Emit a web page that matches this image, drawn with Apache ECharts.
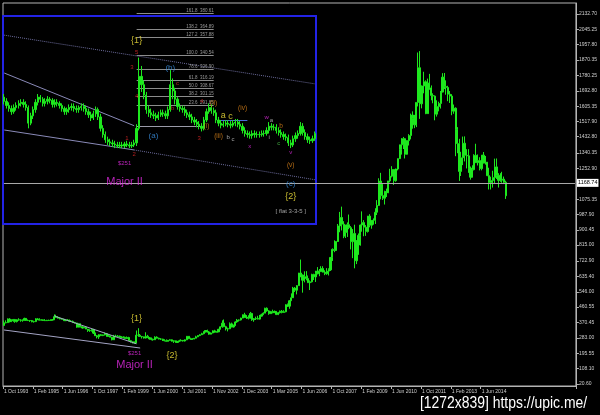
<!DOCTYPE html>
<html><head><meta charset="utf-8">
<script src="https://cdn.jsdelivr.net/npm/echarts@6/dist/echarts.min.js"></script>
<style>html,body{margin:0;padding:0;background:#000;}#c{width:600px;height:415px;}</style>
</head><body><div id="c"></div>
<script>
// ---------- main chart data (monthly bars) ----------
const xTickLabels = ['1 Oct 1993','1 Feb 1995','1 Jun 1996','1 Oct 1997','1 Feb 1999','1 Jun 2000','1 Jul 2001','1 Nov 2002','1 Dec 2003','1 Mar 2005','1 Jun 2006','1 Oct 2007','1 Feb 2009','1 Jun 2010','1 Oct 2011','1 Feb 2013','1 Jun 2014'];
const totalSlots = 307;
const yTickValues = [20.60,108.10,195.55,283.00,370.45,460.55,546.00,635.40,722.90,815.00,900.45,987.90,1075.35,1252.90,1340.35,1432.80,1517.90,1605.35,1692.80,1780.25,1870.35,1957.80,2045.25,2132.70];
const currentPrice = 1168.74;

const opens = [
 355,370,371,
 391,377,381,389,377,387,386,384,385,395,383,383,
 383,376,377,392,389,385,387,383,382,384,383,387,
 387,405,400,396,392,390,382,385,386,379,378,371,
 369,345,364,349,340,345,334,326,325,332,311,296,
 290,302,297,301,308,293,296,288,273,294,292,294,
 288,287,287,280,286,268,262,255,254,299,299,292,
 290,283,293,285,278,276,273,288,282,277,277,273,268,264,270,
 273,265,267,258,264,267,270,266,273,293,279,275,
 277,282,290,297,302,308,318,326,318,305,312,324,316,318,333,
 347,368,348,335,336,364,346,354,375,385,386,397,
 416,402,400,396,423,387,393,395,391,408,416,425,453,
 438,422,434,428,435,417,428,436,429,433,473,465,496,
 513,568,556,582,654,643,613,633,623,599,604,646,
 632,650,665,662,680,659,650,665,672,743,789,783,
 834,923,971,933,865,885,930,913,833,880,724,814,
 869,928,942,916,891,979,927,954,955,1001,1040,1179,
 1096,1081,1119,1113,1180,1207,1245,1181,1248,1307,1359,1386,
 1421,1332,1410,1439,1556,1536,1500,1628,1826,1620,1722,1746,
 1564,1738,1711,1668,1664,1561,1604,1622,1687,1772,1719,1713,
 1675,1664,1578,1595,1472,1393,1234,1312,1395,1326,1323,1253,
 1201,1244,1326,1284,1296,1250,1327,1282,1287,1210,1171,1182,
 1199,1260,1212,1183,1184,1190,1172];
const closes = [
 370,371,391,
 377,381,389,377,387,386,384,385,395,383,383,383,
 376,377,392,389,385,387,383,382,384,383,387,387,
 405,400,396,392,390,382,385,386,379,378,371,369,
 345,364,349,340,345,334,326,325,332,311,296,290,
 302,297,301,308,293,296,288,273,294,292,294,288,
 287,287,280,286,268,262,255,254,299,299,292,290,
 283,293,285,278,276,273,288,282,277,277,273,268,264,270,273,
 265,267,258,264,267,270,266,273,293,279,275,277,
 282,290,297,302,308,318,326,318,305,312,324,316,318,333,347,
 368,348,335,336,364,346,354,375,385,386,397,416,
 402,400,396,423,387,393,395,391,408,416,425,453,438,
 422,434,428,435,417,428,436,429,433,473,465,496,513,
 568,556,582,654,643,613,633,623,599,604,646,632,
 650,665,662,680,659,650,665,672,743,789,783,834,
 923,971,933,865,885,930,913,833,880,724,814,869,
 928,942,916,891,979,927,954,955,1001,1040,1179,1096,
 1081,1119,1113,1180,1207,1245,1181,1248,1307,1359,1386,1421,
 1332,1410,1439,1556,1536,1500,1628,1826,1620,1722,1746,1564,
 1738,1711,1668,1664,1561,1604,1622,1687,1772,1719,1713,1675,
 1664,1578,1595,1472,1393,1234,1312,1395,1326,1323,1253,1201,
 1244,1326,1284,1296,1250,1327,1282,1287,1210,1171,1182,1199,
 1260,1212,1183,1184,1190,1172,1095];
const highs = [
 383,384,395,
 396,390,392,392,390,396,390,389,399,397,389,385,
 386,382,396,396,396,390,389,391,387,388,389,390,
 418,416,408,400,396,393,390,391,388,385,383,375,
 370,366,366,350,348,346,334,333,335,335,314,300,
 305,306,303,315,312,301,297,290,301,302,300,297,
 293,293,291,292,290,272,265,264,326,339,306,294,
 291,316,301,288,286,280,293,293,285,282,279,276,275,272,276,
 275,270,269,264,273,276,271,275,294,294,285,282,
 283,296,299,305,313,322,328,331,323,315,327,330,322,335,350,
 384,389,353,342,372,371,360,379,392,389,399,417,
 427,414,413,432,427,397,405,410,415,422,430,456,458,
 442,438,445,440,437,432,440,443,442,476,480,498,538,
 575,574,585,655,731,645,664,665,640,612,650,650,
 667,688,677,693,693,670,682,681,745,795,841,835,
 934,1003,1033,950,930,943,988,922,905,930,842,880,
 931,1006,956,928,980,990,957,966,1024,1070,1195,1226,
 1162,1124,1136,1180,1249,1264,1246,1250,1308,1388,1424,1431,
 1424,1411,1447,1564,1577,1557,1628,1913,1921,1725,1803,1754,
 1764,1791,1725,1680,1668,1640,1632,1693,1795,1796,1754,1723,
 1693,1675,1616,1600,1487,1420,1346,1433,1434,1361,1361,1262,
 1269,1332,1392,1331,1315,1328,1345,1322,1287,1255,1204,1238,
 1307,1308,1224,1224,1232,1205,1181];
const lows = [
 360,367,370,
 372,374,376,370,372,382,376,376,383,383,380,375,
 373,371,374,385,383,383,381,381,381,381,382,383,
 387,398,395,390,389,382,380,385,378,376,370,367,
 342,344,343,336,339,334,318,318,320,306,295,281,
 278,294,294,298,290,290,287,270,273,287,290,285,
 282,280,278,278,267,257,252,251,253,290,289,280,
 280,280,283,274,270,268,272,280,275,272,266,264,262,263,268,
 263,255,256,255,260,264,263,263,271,277,273,273,
 276,281,288,294,300,304,315,314,302,304,310,313,315,318,332,
 342,345,326,321,334,344,343,352,370,377,383,396,
 398,392,389,394,381,376,386,389,388,406,416,425,433,
 416,421,424,426,414,414,423,424,428,430,460,450,495,
 516,546,532,582,630,542,601,612,598,557,600,614,
 603,647,636,661,658,642,644,640,666,723,773,780,
 832,887,897,853,854,860,904,789,739,681,705,758,
 810,890,864,866,885,915,907,930,934,985,1045,1075,
 1071,1045,1088,1110,1171,1200,1157,1175,1240,1309,1330,1362,
 1308,1330,1382,1417,1478,1481,1487,1605,1534,1594,1680,1561,
 1563,1700,1640,1623,1526,1547,1577,1593,1689,1704,1672,1635,
 1625,1555,1563,1321,1338,1180,1208,1270,1291,1251,1226,1187,
 1202,1240,1282,1268,1240,1240,1281,1273,1207,1131,1131,1142,
 1167,1191,1142,1175,1169,1162,1077];

// main chart annotations: [text, bar index, price]
const mainLabels = [
 ['{1}', 71, 397],
 ['$251', 70, 198],
 ['Major II', 70, 127],
 ['{2}', 90, 186]
];
const mainWedgeUpper = [[27, 409], [71, 250]];
const mainWedgeLower = [[0, 329], [72.5, 226]];

// ---------- inset data (Elliott wave detail, ~1998-2001) ----------
const insetOpens = [
 300,296,292,289,286,290,292,294,295,293,
 290,275,282,288,295,300,298,294,296,298,
 297,293,295,294,292,289,286,288,290,291,
 289,288,290,291,289,286,283,280,284,288,
 281,270,264,259,257,256,255,254,253,254,
 253,255,254,253,254,256,270,320,312,302,
 288,285,283,282,280,283,285,284,282,288,
 312,306,298,291,289,288,285,283,281,278,
 276,274,272,270,278,286,290,287,285,278,
 275,273,274,275,274,273,275,276,274,272,
 268,265,264,263,265,264,264,264,265,265,
 268,272,271,271,268,266,264,262,261,256,
 254,260,263,265,272,266,262,259,258,260];
const insetCloses = [
 296,292,289,286,290,292,294,295,293,290,
 275,282,288,295,300,298,294,296,298,297,
 293,295,294,292,289,286,288,290,291,289,
 288,290,291,289,286,283,280,284,288,281,
 270,264,259,257,256,255,254,253,254,253,
 255,254,253,254,256,270,320,312,302,288,
 285,283,282,280,283,285,284,282,288,312,
 306,298,291,289,288,285,283,281,278,276,
 274,272,270,278,286,290,287,285,278,275,
 273,274,275,274,273,275,276,274,272,268,
 265,264,263,265,264,264,264,265,265,268,
 272,271,271,268,266,264,262,261,256,254,
 260,263,265,272,266,262,259,258,260,265];
const insetHighs = [
 303,299,295,292,293,295,297,298,298,296,
 292,285,291,298,303,302,300,299,301,300,
 299,298,298,296,294,291,290,293,294,294,
 292,292,294,294,292,289,286,287,291,290,
 284,273,267,262,260,259,258,257,257,257,
 257,258,257,257,259,274,338,330,316,305,
 292,289,287,285,286,288,288,287,291,326,
 318,309,300,294,292,291,288,286,284,281,
 279,277,275,281,289,294,293,290,288,281,
 278,277,278,278,277,278,279,279,277,275,
 271,268,267,268,268,267,267,268,268,271,
 276,275,274,274,271,269,267,265,264,259,
 263,266,268,276,275,269,265,262,263,267];
const insetLows = [
 293,289,286,283,284,287,289,291,290,287,
 270,273,279,285,292,295,291,291,293,294,
 290,290,291,289,286,283,283,285,287,286,
 285,285,287,286,283,280,277,278,281,278,
 267,261,256,254,253,252,251,251,251,251,
 251,252,251,251,252,253,268,305,298,284,
 281,280,279,277,278,281,281,279,279,286,
 298,293,288,286,285,282,280,278,275,273,
 271,269,267,268,276,284,284,282,275,272,
 270,271,272,271,270,271,272,271,269,265,
 262,261,260,260,261,261,261,262,262,263,
 265,268,268,265,263,261,259,258,253,251,
 252,257,260,263,263,259,256,255,256,258];

// Fibonacci levels: [ratio, price]
const fibRatios = ['161.8','138.2','127.2','100.0','78.6','61.8','50.0','38.2','23.6'];
const fibPrices = [380.61,364.89,357.88,340.54,326.90,316.19,308.67,301.15,291.85];

// inset wave labels: [text, bar index, price, colour group]
const insetLabels = [
 ['{1}',55,354,'Y'],['5',55,343.5,'R'],['3',53,329,'R'],['4',55,301,'R'],
 ['(b)',69,328,'B'],['c',71.5,313,'R'],['b',70,289.5,'R'],['(a)',62,262.6,'B'],
 ['1',51,260.7,'R'],['2',54,245.3,'R'],['$251',50.3,236.7,'M'],['Major II',50.2,218.4,'MB'],
 ['(i)',84,272,'O'],['(ii)',87,294.4,'O'],['(iii)',88.5,262.6,'O'],['(iv)',99,289.5,'O'],
 ['3',80.5,260.7,'R'],['4',82,296.3,'R'],
 ['a',91,282,'Y'],['c',94,281,'Y'],['b',92.5,261.7,'W'],['c',95.4,259.7,'W'],
 ['x',102,253,'M'],['w',108.7,281,'M'],['a',111,278,'W'],['b',115.4,272,'O'],
 ['i',109.5,261,'W'],['c',114,256,'G'],['v',118.7,247,'M'],
 ['(v)',118.7,234.7,'O'],['(c)',118.7,216.5,'B'],['{2}',118.7,204,'Y'],['[ flat 3-3-5 ]',118.7,190.5,'W']
];
const insetChannelTop = [[0, 359.6], [129, 312.8]];
const insetWedgeUpper = [[0, 323.2], [54, 272.5]];
const insetWedgeLower = [[0, 268.4], [53.5, 249.2]];
const insetWedgeLowerExt = [[53.5, 249.2], [129, 220.6]];
const insetALevel = [[55, 272.2], [82, 272.2]];
const insetShort = [[90, 278], [101, 278]];

// ---------- build ----------
const categories = [];
for (let i = 0; i < totalSlots; i++) categories.push(String(i));
const isLabelIdx = i => i % 16 === 0 && i / 16 < xTickLabels.length;
const mainOHLC = closes.map((c, i) => [opens[i], c, lows[i], highs[i]]);
const insetOHLC = insetCloses.map((c, i) => [insetOpens[i], c, insetLows[i], insetHighs[i]]);
const insetCats = insetCloses.map((_, i) => String(i));

const COL = {Y:'#f2e23a', R:'#e02828', B:'#3a90e0', M:'#e22ae2', MB:'#e22ae2', O:'#e0861a', W:'#c8c8c8', G:'#4cc84c'};
const SIZE = {Y:9, R:6, B:8, M:6, MB:11, O:6.5, W:6, G:6};
const green = '#1ee81e';
const fontFam = 'Liberation Sans, Arial, sans-serif';

function seg(p, color, type) {
  return [{coord: p[0], lineStyle: {color: color, width: 1, type: type || 'solid'}}, {coord: p[1]}];
}

const chart = echarts.init(document.getElementById('c'), null, {renderer: 'canvas'});
chart.setOption({
  backgroundColor: '#000',
  animation: false,
  textStyle: {fontFamily: fontFam},
  grid: [
    {left: 3, top: 3, right: 21, bottom: 29, show: true, borderColor: '#b4b4b4', borderWidth: 1},
    {left: 3, top: 10, width: 313, height: 214, show: false}
  ],
  xAxis: [
    {type: 'category', gridIndex: 0, data: categories, boundaryGap: true,
     axisLine: {show: true, lineStyle: {color: '#b4b4b4'}},
     axisTick: {show: true, interval: (i) => isLabelIdx(i), length: 3, alignWithLabel: false, lineStyle: {color: '#b4b4b4'}},
     axisLabel: {interval: (i) => isLabelIdx(i), formatter: (v, i) => isLabelIdx(i) ? xTickLabels[i / 16] : '',
       showMinLabel: true, hideOverlap: false,
       align: 'left', fontSize: 5, color: '#cfcfcf', margin: 3},
     splitLine: {show: false}},
    {type: 'category', gridIndex: 1, data: insetCats, show: false, boundaryGap: true}
  ],
  yAxis: [
    {type: 'value', gridIndex: 0, position: 'right', min: 9.2, max: 2195.5, scale: true,
     axisLine: {show: true, lineStyle: {color: '#b4b4b4'}},
     axisTick: {show: true, length: 3, customValues: yTickValues, lineStyle: {color: '#b4b4b4'}},
     axisLabel: {customValues: yTickValues, formatter: v => v.toFixed(2), fontSize: 5, color: '#cfcfcf', margin: 3},
     splitLine: {show: false}},
    {type: 'value', gridIndex: 1, min: 178, max: 383.8, show: false, splitLine: {show: false}}
  ],
  series: [
    {type: 'candlestick', xAxisIndex: 0, yAxisIndex: 0, data: mainOHLC, barWidth: 1.6, z: 2,
     itemStyle: {color: green, color0: green, borderColor: green, borderColor0: green, borderWidth: 1},
     markLine: {silent: true, symbol: 'none', animation: false,
       data: [
         [{coord: [0, currentPrice], lineStyle: {color: '#a8a8a8', width: 1, type: 'solid'},
           label: {show: true, position: 'end', formatter: currentPrice.toFixed(2), backgroundColor: '#ffffff', color: '#000', fontSize: 5.5, padding: [1, 1], distance: 2}},
          {coord: [totalSlots - 1, currentPrice]}],
         seg(mainWedgeUpper, '#a4a4c4'),
         seg(mainWedgeLower, '#a4a4c4')
       ].map(d => { if (!d[0].label) d[0].label = {show: false}; return d; })
     }},
    {type: 'scatter', xAxisIndex: 0, yAxisIndex: 0, symbolSize: 0, z: 3, silent: true,
     data: mainLabels.map(a => ({value: [a[1], a[2]], label: {show: true, position: 'inside', formatter: a[0],
       color: a[0].startsWith('{') ? COL.Y : COL.M,
       fontSize: a[0] === 'Major II' ? 11 : (a[0] === '$251' ? 6 : 9)}}))},
    {type: 'candlestick', xAxisIndex: 1, yAxisIndex: 1, data: insetOHLC, barWidth: 1.8, z: 6, clip: false,
     itemStyle: {color: green, color0: green, borderColor: green, borderColor0: green, borderWidth: 1},
     markLine: {silent: true, symbol: 'none', animation: false, z: 6,
       data: fibPrices.map((p, k) => [
         {coord: [55, p], lineStyle: {color: '#8c8c8c', width: 1, type: 'solid'},
          label: {show: true, position: 'insideEndTop', formatter: fibRatios[k] + '  ' + p.toFixed(2), color: '#9a9a9a', fontSize: 4.5, distance: 0}},
         {coord: [87, p]}]).concat([
         seg(insetChannelTop, '#6c6c9c', 'dotted'),
         seg(insetWedgeUpper, '#8a8ab8'),
         seg(insetWedgeLower, '#8a8ab8'),
         seg(insetWedgeLowerExt, '#6c6c9c', 'dotted'),
         seg(insetALevel, '#9a9aa8'),
         seg(insetShort, '#4a6ad8')
       ].map(d => { d[0].label = {show: false}; return d; }))
     }},
    {type: 'scatter', xAxisIndex: 1, yAxisIndex: 1, symbolSize: 0, z: 7, silent: true, clip: false,
     data: insetLabels.map(a => ({value: [a[1], a[2]], label: {show: true, position: 'inside', formatter: a[0],
       color: COL[a[3]], fontSize: SIZE[a[3]]}}))}
  ],
  graphic: [
    {type: 'rect', z: 4, silent: true,
     shape: {x: 3, y: 16, width: 313, height: 208},
     style: {fill: '#000', stroke: '#2323e6', lineWidth: 2}},
    {type: 'text', left: 420, top: 396, z: 20, scaleX: 0.87, originX: 0,
     style: {text: '[1272x839] https://upic.me/', fill: '#ffffff', font: '16px "Liberation Sans", sans-serif'}}
  ]
});
</script>
</body></html>
